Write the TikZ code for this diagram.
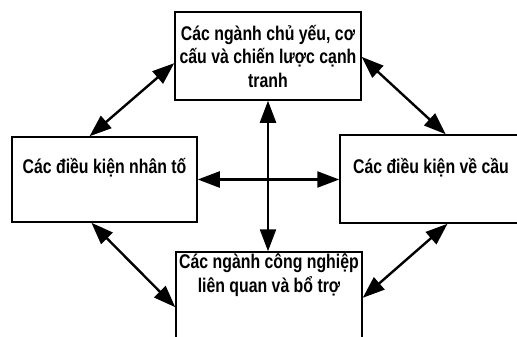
\documentclass[tikz,border=0pt]{standalone}
\usepackage{fontspec}
\setmainfont{Liberation Sans}[FakeStretch=0.8]
\usetikzlibrary{arrows.meta,calc}
\begin{document}
\begin{tikzpicture}[x=1pt,y=-1pt,
  box/.style={draw=black,line width=1.5pt,fill=white,inner sep=0pt,align=center,
    font=\fontsize{19.8}{23.5}\selectfont\bfseries},
  link/.style={line width=2.4pt,{Triangle[length=22pt,width=16pt]}-{Triangle[length=22pt,width=16pt]}}]
\path[use as bounding box] (0,0) rectangle (517,337);
\begin{scope}
\clip (0,0) rectangle (517,337);
\node[box,minimum width=186pt,minimum height=88pt] (top) at (268,56) {Các ngành chủ yếu, cơ\\cấu và chiến lược cạnh\\tranh};
\node[box,minimum width=185pt,minimum height=85pt] (left) at (104.5,179.5) {Các điều kiện nhân tố\\[4pt]};
\node[box,minimum width=182pt,minimum height=88pt] (right) at (431,179) {Các điều kiện về cầu\\[2pt]};
\node[box,minimum width=186pt,minimum height=88pt] (bottom) at (269,296) {Các ngành công nghiệp\\liên quan và bổ trợ\\[22pt]};
\draw[link] (top.south) -- (top.south |- bottom.north);
\draw[link] (left.east) -- (left.east -| right.west);
\draw[link] ($(left.north west)!0.42!(left.north east)$) -- ($(top.north west)!0.58!(top.south west)$);
\draw[link] ($(top.north east)!0.51!(top.south east)$) -- ($(right.north west)!0.58!(right.north east)$);
\draw[link] ($(left.south west)!0.43!(left.south east)$) -- ($(bottom.north west)!0.625!(bottom.south west)$);
\draw[link] ($(right.south west)!0.59!(right.south east)$) -- ($(bottom.north east)!0.52!(bottom.south east)$);
\end{scope}
\end{tikzpicture}
\end{document}
